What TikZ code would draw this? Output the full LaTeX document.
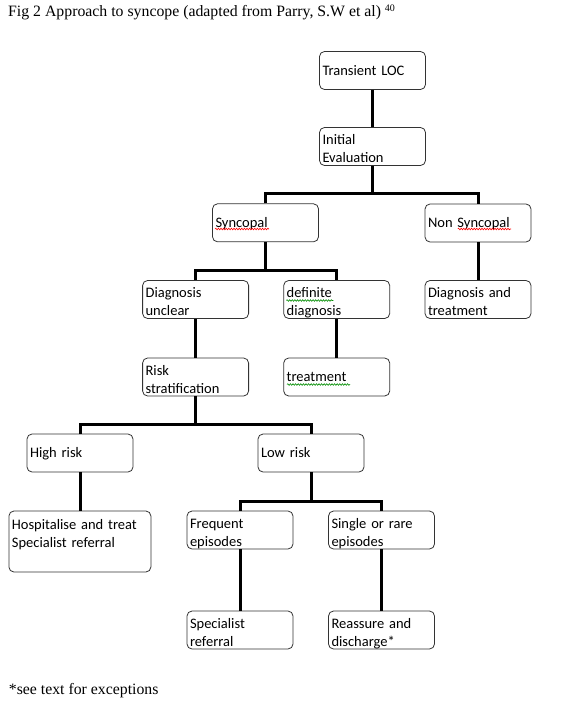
\documentclass[tikz,border=0pt]{standalone}
\usepackage{fontspec}
\setmainfont{Liberation Serif}
\newfontfamily\boxfont{Carlito}
\usetikzlibrary{decorations.pathmorphing}
\begin{document}
\begin{tikzpicture}[x=1pt,y=-1pt,
  box/.style={draw=black!80, line width=0.8pt, rounded corners=5pt, rectangle,
    inner xsep=3pt, inner ysep=0pt, text width=100pt, minimum width=106pt,
    minimum height=38pt, align=left,
    font=\boxfont\fontsize{14.5}{18}\selectfont, text height=11pt, text depth=2pt},
  two/.style={text depth=15pt},
  conn/.style={line width=3pt, line join=miter},
  spellred/.style={draw=red, line width=0.6pt, decorate, decoration={snake, amplitude=0.8pt, segment length=2.6pt}},
  spellgreen/.style={draw=green!55!black, line width=0.6pt, decorate, decoration={snake, amplitude=0.8pt, segment length=2.6pt}},
  serif/.style={anchor=base west, inner sep=0pt, font=\fontsize{15.8}{18}\selectfont}]
\useasboundingbox (0,0) rectangle (565,704);

\node[serif] (title) at (8,16.7) {Fig 2 Approach to syncope (adapted from Parry, S.W et al) \raisebox{5pt}{\fontsize{10}{10}\selectfont 40}};

\node[box] (loc) at (372.5,70.5) {Transient LOC};
\node[box,two] (init) at (372.5,146.5) {Initial\\Evaluation};
\node[box] (sync) at (265.5,222.8) {Syncopal};
\node[box] (nonsync) at (478,223) {Non Syncopal};
\node[box,two] (dxunc) at (195.6,299.5) {Diagnosis\\unclear};
\node[box,two] (defdx) at (336.7,299.5) {definite\\diagnosis};
\node[box,two] (dxtx) at (478,299.5) {Diagnosis and\\treatment};
\node[box,two] (risk) at (195.6,377) {Risk\\stratification};
\node[box] (tx) at (336.7,377) {treatment};
\node[box] (high) at (80,453) {High risk};
\node[box] (low) at (311,453) {Low risk};
\node[box, text width=136pt, minimum width=142pt, minimum height=61pt, text depth=35.4pt] (hosp) at (79.9,541.5) {Hospitalise and treat\\Specialist referral};
\node[box,two] (freq) at (240,530) {Frequent\\episodes};
\node[box,two] (rare) at (381.5,530) {Single or rare\\episodes};
\node[box,two] (spec) at (240,630) {Specialist\\referral};
\node[box,two] (reas) at (381.5,630) {Reassure and\\discharge*};

\node[serif] (note) at (8.7,694.5) {*see text for exceptions};

\coordinate (j1) at (372.5,193);
\coordinate (j2) at (265.5,270.7);
\coordinate (j3) at (195.6,424);
\coordinate (j4) at (311,501);

\draw[conn] (loc) -- (init);
\draw[conn] (init) -- (j1);
\draw[conn] (sync.north) |- (j1) -| (nonsync.north);
\draw[conn] (sync) -- (j2);
\draw[conn] (dxunc.north) |- (j2) -| (defdx.north);
\draw[conn] (nonsync) -- (dxtx);
\draw[conn] (dxunc) -- (risk);
\draw[conn] (defdx) -- (tx);
\draw[conn] (risk) -- (j3);
\draw[conn] (high.north) |- (j3) -| (low.north);
\draw[conn] (high.south) -- (high.south |- hosp.north);
\draw[conn] (low) -- (j4);
\draw[conn] (freq.north) |- (j4) -| (rare.north);
\draw[conn] (freq) -- (spec);
\draw[conn] (rare) -- (reas);

\path[spellred] (215,229) -- (269,229);
\path[spellred] (457.8,229) -- (511,229);
\path[spellgreen] (286.3,300.5) -- (333.3,300.5);
\path[spellgreen] (287,384.5) -- (350,384.5);
\end{tikzpicture}
\end{document}
